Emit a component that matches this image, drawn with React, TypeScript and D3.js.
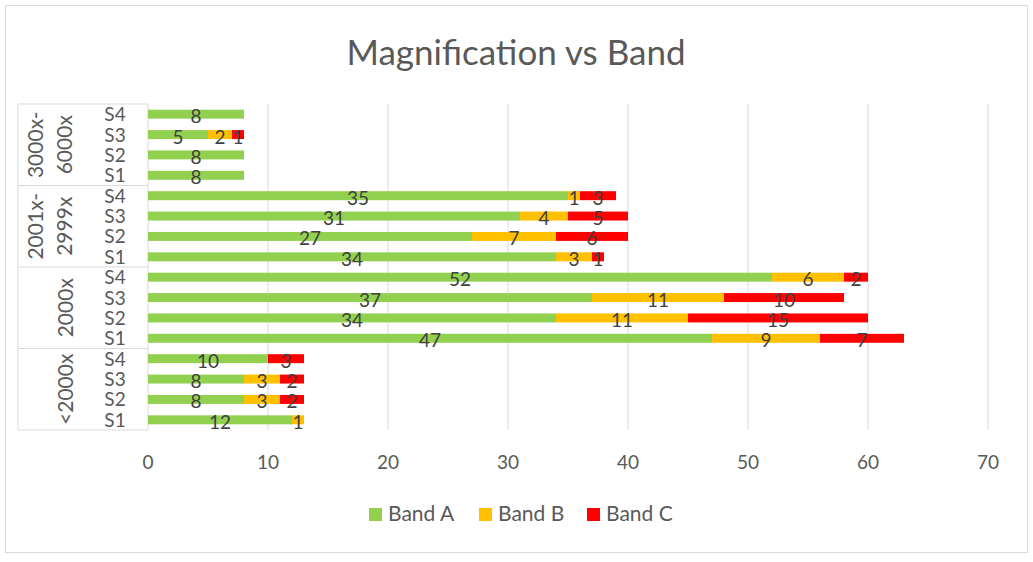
import React from "react";
import * as d3 from "d3";

const groups = ["3000x-6000x", "2001x-2999x", "2000x", "<2000x"];
const groupLines = [["3000x-", "6000x"], ["2001x-", "2999x"], ["2000x"], ["<2000x"]];
const subs = ["S4", "S3", "S2", "S1"];
// values per group, rows in order S4,S3,S2,S1
const bandA = [
  [8, 5, 8, 8],
  [35, 31, 27, 34],
  [52, 37, 34, 47],
  [10, 8, 8, 12],
];
const bandB = [
  [0, 2, 0, 0],
  [1, 4, 7, 3],
  [6, 11, 11, 9],
  [0, 3, 3, 1],
];
const bandC = [
  [0, 1, 0, 0],
  [3, 5, 6, 1],
  [2, 10, 15, 7],
  [3, 2, 2, 0],
];
const seriesNames = ["Band A", "Band B", "Band C"];
const colors = ["#92d050", "#ffc000", "#ff0000"];
const xTicks = [0, 10, 20, 30, 40, 50, 60, 70];

const W = 1033, H = 562;
const FONT = "Lato, 'Open Sans', sans-serif";

export default function App() {
  const rows: { key: string; g: number; s: number; vals: number[] }[] = [];
  groups.forEach((_, gi) =>
    subs.forEach((_, si) =>
      rows.push({ key: gi + "-" + si, g: gi, s: si, vals: [bandA[gi][si], bandB[gi][si], bandC[gi][si]] })
    )
  );
  const top = 104, bottom = 430;
  const x = d3.scaleLinear().domain([0, 70]).range([148, 988]);
  const y = d3.scaleBand().domain(rows.map((r) => r.key)).range([top, bottom]).paddingInner(0.56).paddingOuter(0.28);
  const rowH = (bottom - top) / rows.length;
  const groupTop = (gi: number) => top + gi * subs.length * rowH;
  const stack = d3.stack<any>().keys(["0", "1", "2"])(rows.map((r) => ({ "0": r.vals[0], "1": r.vals[1], "2": r.vals[2] })));
  const legendX = [369, 479, 587];

  return (
    <svg width={W} height={H} style={{ position: "absolute", left: 0, top: 0, background: "#fff" }} fontFamily={FONT}>
      <rect x={5.5} y={5.5} width={1022} height={547} fill="#fff" stroke="#d9d9d9" />
      <text x={516} y={65} textAnchor="middle" fontSize={35} fill="#595959">Magnification vs Band</text>
      {xTicks.slice(1).map((t) => (
        <line key={t} x1={x(t)} x2={x(t)} y1={top} y2={bottom} stroke="#d9d9d9" />
      ))}
      {/* category axis */}
      <line x1={x(0)} x2={x(0)} y1={top} y2={bottom} stroke="#d9d9d9" />
      <line x1={18} x2={18} y1={top} y2={bottom} stroke="#d9d9d9" />
      {[0, 1, 2, 3, 4].map((i) => (
        <line key={i} x1={18} x2={x(0)} y1={groupTop(i)} y2={groupTop(i)} stroke="#d9d9d9" />
      ))}
      {groupLines.map((lines, gi) => {
        const cy = groupTop(gi) + (subs.length / 2) * rowH;
        const bases = lines.length === 2 ? [43, 72] : [73];
        return lines.map((ln, li) => (
          <text key={gi + "-" + li} transform={`translate(${bases[li]},${cy}) rotate(-90)`} textAnchor="middle" fontSize={21} fill="#595959">{ln}</text>
        ));
      })}
      {rows.map((r) => (
        <text key={"s" + r.key} x={115} y={(y(r.key) as number) + y.bandwidth() / 2 + 7} textAnchor="middle" fontSize={19} fill="#595959">{subs[r.s]}</text>
      ))}
      {stack.map((layer, li) =>
        layer.map((d, ri) => {
          const r = rows[ri];
          const w = x(d[1]) - x(d[0]);
          if (w <= 0) return null;
          return (
            <rect key={li + "-" + ri} x={x(d[0])} y={y(r.key)} width={w} height={y.bandwidth()} fill={colors[li]} />
          );
        })
      )}
      {stack.map((layer, li) =>
        layer.map((d, ri) => {
          const r = rows[ri];
          const v = d[1] - d[0];
          if (v <= 0) return null;
          return (
            <text key={"l" + li + "-" + ri} x={(x(d[0]) + x(d[1])) / 2} y={(y(r.key) as number) + y.bandwidth() / 2 + 9} textAnchor="middle" fontSize={19} fill="#404040">{v}</text>
          );
        })
      )}
      {xTicks.map((t) => (
        <text key={"t" + t} x={x(t)} y={469} textAnchor="middle" fontSize={19} fill="#595959">{t}</text>
      ))}
      {seriesNames.map((n, i) => (
        <g key={n} transform={`translate(${legendX[i]},0)`}>
          <rect x={0} y={508} width={13} height={13} fill={colors[i]} />
          <text x={19} y={521} fontSize={21} fill="#595959">{n}</text>
        </g>
      ))}
    </svg>
  );
}
